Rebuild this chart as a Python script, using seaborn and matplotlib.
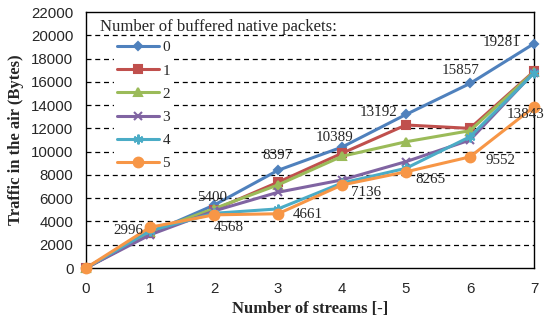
import seaborn as sns
import matplotlib.pyplot as plt
import pandas as pd

streams = [0, 1, 2, 3, 4, 5, 6, 7]
buf0 = [0, 2996, 5400, 8397, 10389, 13192, 15857, 19281]
buf1 = [0, 3000, 5000, 7370, 9860, 12290, 12000, 16900]
buf2 = [0, 3100, 5100, 7140, 9600, 10850, 11800, 16850]
buf3 = [0, 2850, 4900, 6510, 7570, 9140, 11000, 16800]
buf4 = [0, 3200, 4700, 5080, 7300, 8570, 11280, 16750]
buf5 = [0, 3500, 4568, 4661, 7136, 8265, 9552, 13843]
series_names = ["0", "1", "2", "3", "4", "5"]
yticks = list(range(0, 22001, 2000))

# labels (stream, offset in pixels)
labels_blue = [(1, -22, 3), (2, -2, 8), (3, -1, 15), (4, -7, 10), (5, -27, 2), (6, -9, 13), (7, -32, 1)]
labels_orange = [(2, 15, -13), (3, 30, -1), (4, 24, -8), (5, 24, -8), (6, 30, -4), (7, -8, -8)]

colors = ["#4F81BD", "#C0504D", "#9BBB59", "#8064A2", "#4BACC6", "#F79646"]
marks = ["D", "s", "^", "x", (6, 2, 0), "o"]
msizes = [4.5, 6, 6, 6, 7, 7]

rows = []
for name, vals in zip(series_names, [buf0, buf1, buf2, buf3, buf4, buf5]):
    for s, v in zip(streams, vals):
        rows.append({"streams": s, "bytes": v, "buffered": name})
df = pd.DataFrame(rows)

sns.set_style("white")
fig = plt.figure(figsize=(5.5, 3.21), dpi=100)
ax = fig.add_axes([86/550, 1-268/321, (534-86)/550, (268-12)/321])

for i, name in enumerate(series_names):
    sub = df[df["buffered"] == name]
    sns.lineplot(data=sub, x="streams", y="bytes", ax=ax, color=colors[i],
                 marker=marks[i], markersize=msizes[i], linewidth=2.2,
                 markeredgecolor=colors[i], markeredgewidth=1.5,
                 label=name, clip_on=False, zorder=3)

ax.set_xlim(0, 7)
ax.set_ylim(0, 22000)
ax.set_xticks(streams)
ax.set_yticks(yticks)
for y in yticks[1:-1]:
    ax.axhline(y, color="black", linestyle=(0, (4, 3)), linewidth=0.9, zorder=1)
for sp in ax.spines.values():
    sp.set_color("black")
    sp.set_linewidth(1.0)
ax.tick_params(axis="both", direction="out", length=4, width=1, color="black",
               labelsize=10.8)
ax.tick_params(axis="y", pad=5)
ax.tick_params(axis="x", pad=6)
for t in ax.get_xticklabels() + ax.get_yticklabels():
    t.set_fontfamily("Liberation Sans")

ax.set_xlabel("Number of streams [-]", fontfamily="Liberation Serif",
              fontweight="bold", fontsize=12, labelpad=4)
ax.set_ylabel("Traffic in the air (Bytes)", fontfamily="Liberation Serif",
              fontweight="bold", fontsize=12, labelpad=5)

for x, dx, dy in labels_blue:
    ax.annotate(str(buf0[x]), (x, buf0[x]), xytext=(dx, dy), textcoords="offset pixels",
                ha="center", va="center", fontfamily="Liberation Serif", fontsize=10.8, zorder=5)
for x, dx, dy in labels_orange:
    ax.annotate(str(buf5[x]), (x, buf5[x]), xytext=(dx, dy), textcoords="offset pixels",
                ha="center", va="center", fontfamily="Liberation Serif", fontsize=10.8,
                zorder=5, annotation_clip=False)

leg = ax.legend(loc="upper left", bbox_to_anchor=(20/448, 1-18/256), frameon=True,
                prop={"family": "Liberation Serif", "size": 11}, handlelength=2.8,
                handletextpad=0.2, labelspacing=0.62, borderpad=0.2)
leg.get_frame().set_facecolor("white")
leg.get_frame().set_edgecolor("none")
leg.get_frame().set_alpha(1)
leg.set_zorder(4)
ax.text(14/448, 1-15/256, "Number of buffered native packets:",
        transform=ax.transAxes, ha="left", va="center",
        fontfamily="Liberation Serif", fontsize=12, zorder=5)

fig.savefig("out.png", dpi=100)
